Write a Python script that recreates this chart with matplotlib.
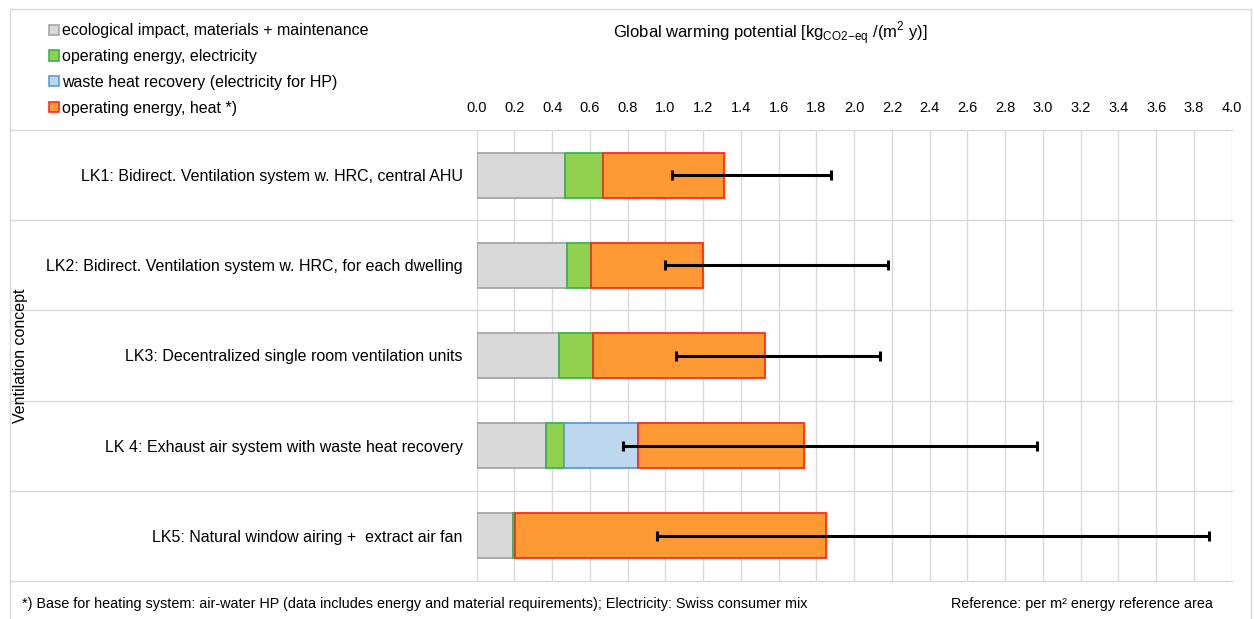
import matplotlib
matplotlib.use("Agg")
import matplotlib.pyplot as plt
from matplotlib.patches import Patch, Rectangle
import numpy as np

plt.rcParams['font.family'] = ['Liberation Sans', 'DejaVu Sans']
plt.rcParams['mathtext.fontset'] = 'custom'
plt.rcParams['mathtext.rm'] = 'Liberation Sans'

concepts = [
    "LK1: Bidirect. Ventilation system w. HRC, central AHU",
    "LK2: Bidirect. Ventilation system w. HRC, for each dwelling",
    "LK3: Decentralized single room ventilation units",
    "LK 4: Exhaust air system with waste heat recovery",
    "LK5: Natural window airing +  extract air fan",
]
materials = [0.467, 0.476, 0.435, 0.365, 0.192]
electricity = [0.203, 0.132, 0.182, 0.095, 0.011]
waste_heat = [0.0, 0.0, 0.0, 0.393, 0.0]
heat = [0.639, 0.593, 0.910, 0.880, 1.649]
err_low = [1.037, 0.998, 1.054, 0.774, 0.956]
err_high = [1.875, 2.180, 2.136, 2.971, 3.880]

labels = ["ecological impact, materials + maintenance",
          "operating energy, electricity",
          "waste heat recovery (electricity for HP)",
          "operating energy, heat *)"]
fills = ["#d9d9d9", "#92d050", "#bdd7ee", "#ff9933"]
edges = ["#a6a6a6", "#3cb44b", "#5b9bd5", "#ff2a1a"]

W, H = 1254, 619
fig = plt.figure(figsize=(W / 100, H / 100), dpi=100)

x0, x1, ytop, ybot = 476.7, 1231.7, 130, 581
ax = fig.add_axes([x0 / W, 1 - ybot / H, (x1 - x0) / W, (ybot - ytop) / H])

y = np.arange(len(concepts))
left = np.zeros(len(concepts))
for vals, fc, ec in zip([materials, electricity, waste_heat, heat], fills, edges):
    vals = np.array(vals)
    m = vals > 0
    ax.barh(y[m], vals[m], left=left[m], height=0.5, color=fc,
            edgecolor=ec, linewidth=1.3, zorder=3)
    left += vals

lo = np.array(err_low)
hi = np.array(err_high)
ax.errorbar((lo + hi) / 2, y, xerr=(hi - lo) / 2, fmt='none', ecolor='black',
            elinewidth=2.2, capsize=3.5, capthick=2.2, zorder=4)

ticks = np.arange(0, 4.01, 0.2)
ax.set_xlim(0, 4)
ax.set_ylim(len(concepts) - 0.5, -0.5)
ax.set_xticks(ticks)
ax.set_xticklabels([f"{v:.1f}" for v in ticks], fontsize=10.5)
ax.xaxis.tick_top()
ax.tick_params(axis='x', length=0, pad=11)
ax.set_yticks(y)
ax.set_yticklabels(concepts, fontsize=11.5)
ax.tick_params(axis='y', length=0, pad=10)
for s in ax.spines.values():
    s.set_visible(False)

grid = "#d9d9d9"
for v in ticks:
    ax.axvline(v, color=grid, lw=1, zorder=1)
xmin = (10 - x0) / (x1 - x0)
for b in np.arange(-0.5, len(concepts), 1.0):
    ax.axhline(b, xmin=xmin, xmax=1, color=grid, lw=1, zorder=1, clip_on=False)

ax.set_ylabel("Ventilation concept", fontsize=11.5)
ax.yaxis.set_label_coords((28 - x0) / (x1 - x0), 0.5)

fig.text(770 / W, 1 - 33 / H,
         r"Global warming potential [kg$_{\mathrm{CO2\!-\!eq}}$ /(m$^{\mathrm{2}}$ y)]",
         ha='center', va='center', fontsize=12)

handles = [Patch(facecolor=f, edgecolor=e, linewidth=1.2) for f, e in zip(fills, edges)]
fig.legend(handles, labels, loc='upper left', bbox_to_anchor=(49 / W, 1 - 23.5 / H),
           frameon=False, fontsize=11.5, handlelength=0.6, handleheight=0.6,
           handletextpad=0.2, labelspacing=0.67, borderaxespad=0, borderpad=0)

fig.text(22 / W, 1 - 604 / H,
         "*) Base for heating system: air-water HP (data includes energy and material "
         "requirements); Electricity: Swiss consumer mix",
         ha='left', va='center', fontsize=10.4)
fig.text(1213 / W, 1 - 604 / H, "Reference: per m² energy reference area",
         ha='right', va='center', fontsize=10.4)

fig.patches.append(Rectangle((10 / W, -0.05), (1251 - 10) / W, 1 - 9 / H + 0.05,
                             transform=fig.transFigure, fill=False,
                             edgecolor=grid, lw=1))

fig.savefig("out.png", dpi=100)
